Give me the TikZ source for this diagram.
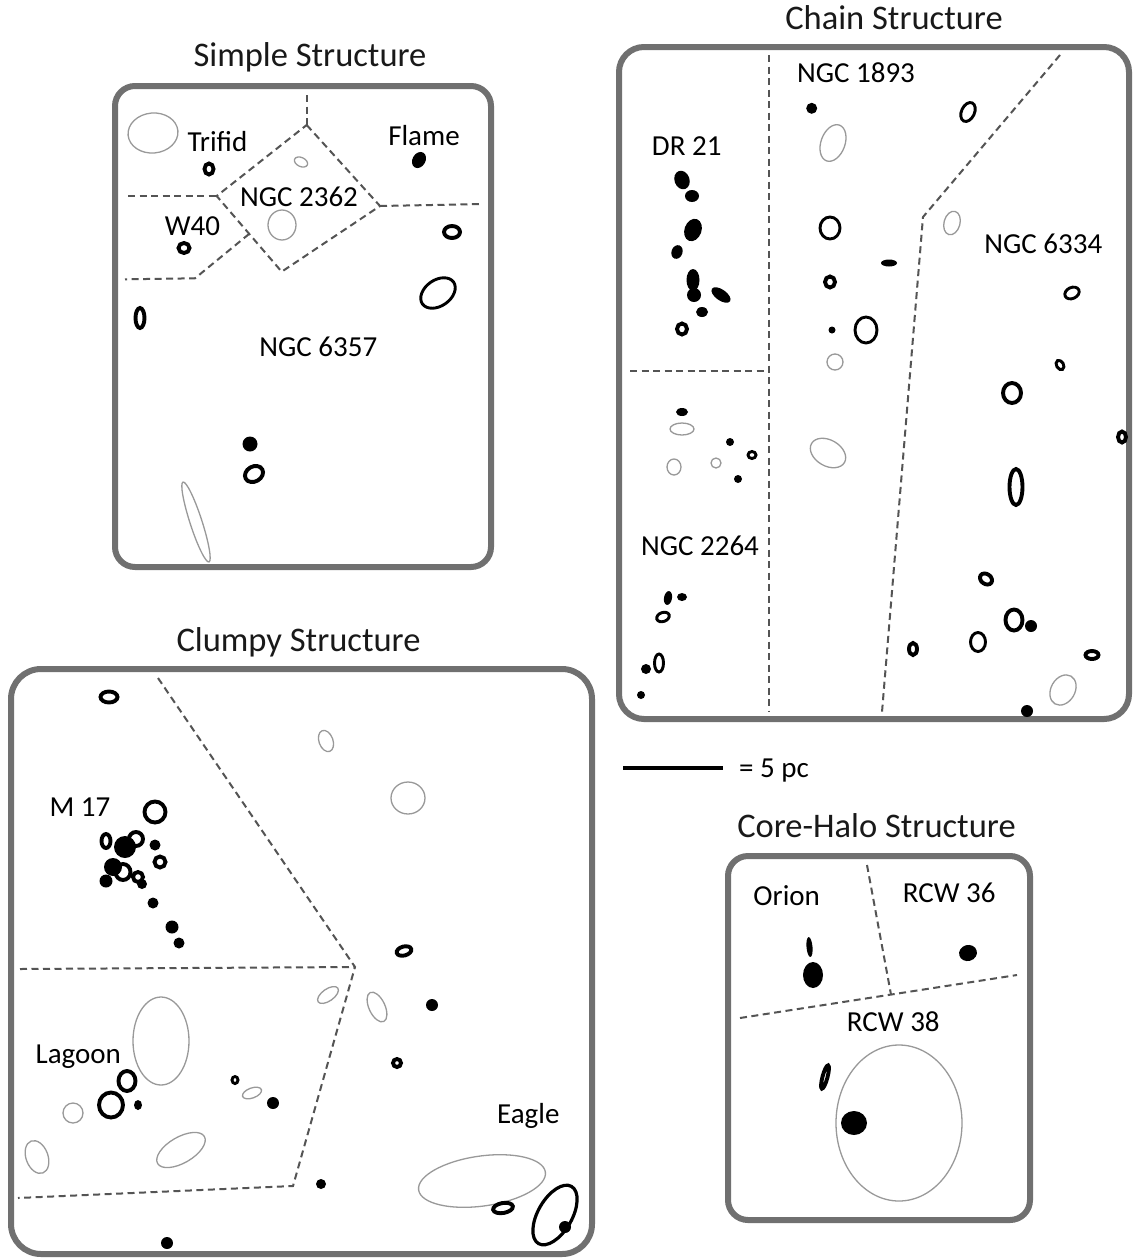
\documentclass[tikz,border=0pt]{standalone}
\usepackage{fontspec}
\setmainfont{Carlito}
\usetikzlibrary{calc}
\newcommand{\Cl}[6]{\path[#1] (#2,#3) circle [x radius=#4pt, y radius=#5pt, rotate=#6];}
\begin{document}
\begin{tikzpicture}[x=1pt,y=-1pt,
  gry/.style={draw=black!40, line width=1.3pt},
  rng/.style={draw=black, line width=3.9pt},
  rngt/.style={draw=black, line width=2.9pt},
  fil/.style={fill=black},
  dsh/.style={draw=black!67, line width=2pt, dash pattern=on 7pt off 4.5pt},
  panel/.style={draw=black!56, line width=6pt},
  lab/.style={font=\fontsize{29}{34}\selectfont, inner sep=0pt, anchor=base},
  ttl/.style={font=\fontsize{34.5}{40}\selectfont, inner sep=0pt, anchor=base, text=black!90}]
\useasboundingbox (0,0) rectangle (1133,1259);
\fill[white] (0,0) rectangle (1133,1259);

% ================= Simple Structure =================
\node[ttl] (tSimple) at (310,66) {Simple Structure};
\draw[panel, rounded corners=20pt] (115,86) rectangle (491,567);
\coordinate (sTop) at (306.7,95);
\coordinate (sT) at (306.7,125);
\coordinate (sR) at (380,206);
\coordinate (sB) at (281.7,271.7);
\coordinate (sL) at (216.7,196);
\coordinate (sLL) at (128,196);
\coordinate (sRR) at (483,204);
\coordinate (sK) at ($(sL)!0.5!(sB)$);
\coordinate (sM) at (195,278.3);
\coordinate (sML) at (125,279.3);
\draw[dsh] (sTop) -- (sT);
\draw[dsh] (sT) -- (sR) -- (sB) -- (sL) -- cycle;
\draw[dsh] (sLL) -- (sL);
\draw[dsh] (sR) -- (sRR);
\draw[dsh] (sK) -- (sM) -- (sML);
\Cl{gry}{153}{133}{25}{20}{5}
\Cl{rng}{209}{169}{4.5}{5.5}{0}
\Cl{fil}{419}{160}{6.5}{8.5}{-30}
\Cl{gry}{301}{162}{7}{4.5}{-25}
\Cl{gry}{282}{225}{14}{15}{0}
\Cl{rng}{184}{248}{5.5}{5}{0}
\Cl{rng}{452}{232}{8}{6}{0}
\Cl{rngt}{438}{293}{19}{13}{35}
\Cl{rng}{140}{318}{4.5}{10}{0}
\Cl{fil}{250}{444}{7.5}{7.5}{0}
\Cl{rng}{254}{474}{9.5}{7.5}{30}
\Cl{gry}{196}{522}{6}{42}{18}
\node[lab] (lTrifid) at (217.5,151) {Trifid};
\node[lab] (lFlame) at (424,145) {Flame};
\node[lab] (lN2362) at (299,206) {NGC 2362};
\node[lab] (lW40) at (192.5,235) {W40};
\node[lab] (lN6357) at (318.3,356) {NGC 6357};

% ================= Chain Structure =================
\node[ttl] (tChain) at (894,29) {Chain Structure};
\draw[panel, rounded corners=25pt] (619,47) rectangle (1129,719);
\coordinate (cV1) at (769,55);
\coordinate (cV2) at (769,712);
\coordinate (cVm) at (769,371);
\coordinate (cH1) at (630,371);
\coordinate (cS1) at (1060,55);
\coordinate (cS2) at (923,217);
\coordinate (cS3) at (882,712);
\draw[dsh] (cV1) -- (cV2);
\draw[dsh] (cH1) -- (cVm);
\draw[dsh] (cS1) -- (cS2) -- (cS3);
% DR 21
\Cl{fil}{682}{180}{7.5}{9.5}{20}
\Cl{fil}{692}{196}{7}{6}{0}
\Cl{fil}{693}{230}{8.5}{11.5}{-20}
\Cl{fil}{677}{252}{5.5}{7}{-20}
\Cl{fil}{693}{280}{6.5}{11}{0}
\Cl{fil}{694}{295}{7}{7}{0}
\Cl{fil}{721}{295}{11}{5.5}{-35}
\Cl{fil}{702}{312}{6}{5}{0}
\Cl{rng}{682}{329}{5}{5.5}{0}
% NGC 1893
\Cl{fil}{811.7}{108.3}{5.5}{5.5}{0}
\Cl{gry}{833}{143}{12}{19}{-20}
\Cl{rngt}{830}{228}{10}{11}{0}
\Cl{rng}{830}{282}{5}{5.5}{0}
\Cl{fil}{832}{330}{3.5}{3.5}{0}
\Cl{rngt}{866}{330}{11}{13}{0}
\Cl{gry}{835}{362}{8}{8}{0}
\Cl{gry}{828}{453}{19}{13}{-30}
\Cl{fil}{889}{263}{8}{3.5}{0}
% NGC 6334
\Cl{rngt}{968}{112}{6.5}{10}{-25}
\Cl{gry}{952}{223}{8}{12}{-15}
\Cl{rngt}{1072}{293}{7.5}{5.5}{25}
\Cl{rngt}{1060}{365}{3.5}{5}{30}
\Cl{rng}{1012}{393}{9}{10}{0}
\Cl{rng}{1122}{437}{4}{5.5}{0}
\Cl{rng}{1016}{487}{6.5}{18}{0}
\Cl{rng}{986}{579}{6.5}{5}{-35}
\Cl{rng}{1014}{620}{8.5}{10.5}{0}
\Cl{fil}{1031}{626}{6}{6}{0}
\Cl{rngt}{978}{642}{7.5}{9.5}{0}
\Cl{rng}{913}{649}{4}{6}{0}
\Cl{rng}{1092}{655}{6.5}{4}{0}
\Cl{gry}{1063}{690}{12}{16}{-30}
\Cl{fil}{1027}{711}{6}{6}{0}
% NGC 2264
\Cl{fil}{682}{412}{6}{4}{0}
\Cl{gry}{682}{429}{12}{6}{0}
\Cl{fil}{730}{442}{4}{4}{0}
\Cl{rngt}{752}{455}{4}{3.5}{0}
\Cl{gry}{674}{467}{7}{8}{0}
\Cl{gry}{716}{463}{5}{5}{0}
\Cl{fil}{738}{479}{4}{4}{0}
\Cl{fil}{668}{598}{4}{7}{-10}
\Cl{fil}{682}{597}{5}{4}{0}
\Cl{rngt}{663}{617}{6.5}{4.5}{20}
\Cl{fil}{646}{669}{5}{5}{0}
\Cl{rngt}{659}{663}{4.5}{9}{0}
\Cl{fil}{641}{695}{4}{4}{0}
\node[lab] (lDR21) at (686.7,155) {DR 21};
\node[lab] (lN1893) at (856,82) {NGC 1893};
\node[lab] (lN6334) at (1043.3,253) {NGC 6334};
\node[lab] (lN2264) at (700,555) {NGC 2264};

% ================= Scale bar =================
\coordinate (bar1) at (623,768);
\coordinate (bar2) at (723,768);
\draw[line width=4.5pt] (bar1) -- (bar2);
\node[lab] (lScale) at (774,777) {= 5 pc};

% ================= Clumpy Structure =================
\node[ttl] (tClumpy) at (298.5,651) {Clumpy Structure};
\draw[panel, rounded corners=30pt] (11,669) rectangle (592,1254);
\coordinate (kA) at (158,678);
\coordinate (kC) at (355,967);
\coordinate (kL) at (20,969);
\coordinate (kD) at (293,1186);
\coordinate (kE) at (18,1198);
\draw[dsh] (kA) -- (kC) -- (kD) -- (kE);
\draw[dsh] (kL) -- (kC);
% M 17
\Cl{rng}{109}{697}{8.5}{5.5}{0}
\Cl{rng}{155}{812}{10.5}{10.5}{0}
\Cl{rng}{106}{841}{4.5}{7}{0}
\Cl{rng}{136}{839}{7}{7}{0}
\Cl{fil}{125}{847}{11}{11}{0}
\Cl{fil}{155}{845}{5.5}{5.5}{0}
\Cl{fil}{113}{867}{9}{9}{0}
\Cl{rng}{123}{872}{7.5}{8}{0}
\Cl{rng}{160}{862}{5.5}{5.5}{0}
\Cl{fil}{106}{881}{6.5}{6.5}{0}
\Cl{rng}{138}{877}{5}{5}{0}
\Cl{fil}{142}{884}{5}{5}{0}
\Cl{fil}{153}{903}{5.5}{5.5}{0}
\Cl{fil}{172}{927}{6.5}{6.5}{0}
\Cl{fil}{179}{943}{5.5}{5.5}{0}
\Cl{gry}{326}{741}{7}{11}{20}
\Cl{gry}{408}{798}{17}{16}{0}
\Cl{rng}{404}{951}{7.5}{4.5}{15}
% Lagoon
\Cl{gry}{161}{1041}{28}{44}{0}
\Cl{rng}{127}{1081}{8.5}{10}{0}
\Cl{rng}{111}{1105}{12}{12.5}{0}
\Cl{fil}{138}{1105}{4}{5}{0}
\Cl{gry}{73}{1113}{10}{10}{0}
\Cl{gry}{37}{1157}{11}{17}{20}
\Cl{gry}{181}{1150}{27}{13}{30}
\Cl{rngt}{235}{1080}{3}{3.5}{0}
\Cl{gry}{252}{1093}{10}{5}{20}
\Cl{fil}{273}{1103}{6}{6}{0}
\Cl{fil}{167}{1243}{6}{6}{0}
% Eagle
\Cl{gry}{328}{995}{12}{6}{35}
\Cl{gry}{377}{1007}{8}{16}{25}
\Cl{fil}{432}{1005}{6}{6}{0}
\Cl{rng}{397}{1063}{4}{4}{0}
\Cl{fil}{321}{1184}{5}{5}{0}
\Cl{gry}{482}{1181}{64}{25}{8}
\Cl{rng}{503}{1208}{10}{5}{10}
\draw[line width=3.2pt] (555,1215) circle [x radius=17pt, y radius=33pt, rotate=-30];
\Cl{fil}{565}{1227}{6}{6}{0}
\node[lab] (lM17) at (80,816) {M 17};
\node[lab] (lLagoon) at (78.3,1063) {Lagoon};
\node[lab] (lEagle) at (528.3,1123) {Eagle};

% ================= Core-Halo Structure =================
\node[ttl] (tCore) at (876.5,837) {Core-Halo Structure};
\draw[panel, rounded corners=20pt] (728,856) rectangle (1030,1220);
\coordinate (hA) at (867,865);
\coordinate (hB) at (891,994.5);
\coordinate (hL) at (740,1018);
\coordinate (hR) at (1017,975);
\draw[dsh] (hA) -- (hB);
\draw[dsh] (hL) -- (hR);
\Cl{fil}{809.5}{947}{3}{10}{5}
\Cl{fil}{813}{975}{10}{13}{0}
\Cl{fil}{968}{953}{9}{8}{15}
\Cl{rng}{825}{1077}{2.5}{12}{-15}
\Cl{gry}{899}{1123}{63}{78}{0}
\Cl{fil}{854}{1123}{13}{12}{0}
\node[lab] (lOrion) at (786.7,905) {Orion};
\node[lab] (lRCW36) at (949.2,902) {RCW 36};
\node[lab] (lRCW38) at (893.3,1031) {RCW 38};
\end{tikzpicture}
\end{document}
